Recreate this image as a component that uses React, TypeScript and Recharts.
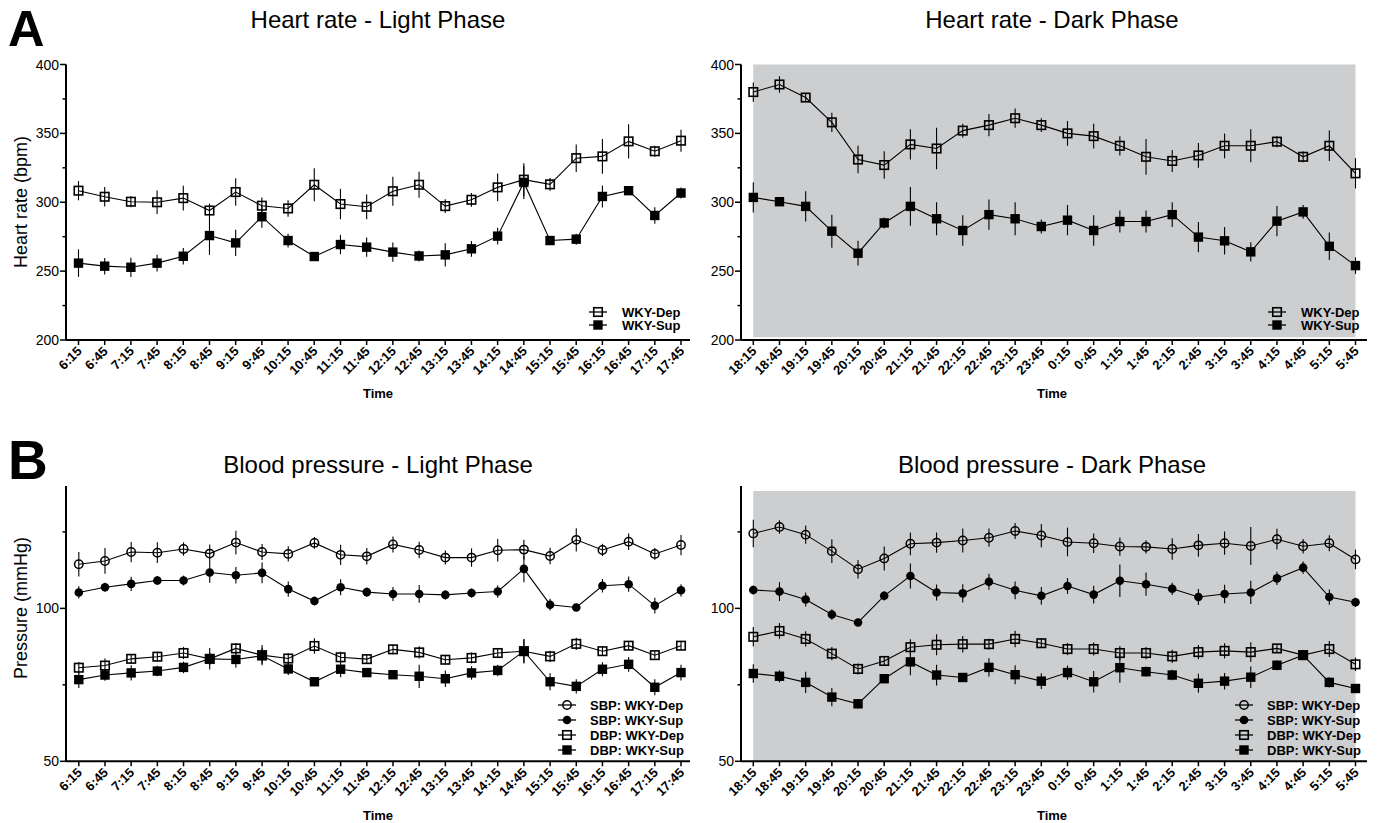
import React from 'react';
import { LineChart, Line, XAxis, YAxis, ErrorBar, ReferenceArea, Legend } from 'recharts';

const FONT = '"Liberation Sans", Arial, Helvetica, sans-serif';
const GRAY = '#cdced0';

// ---------- categories ----------
const lightTimes = ['6:15','6:45','7:15','7:45','8:15','8:45','9:15','9:45','10:15','10:45','11:15','11:45','12:15','12:45','13:15','13:45','14:15','14:45','15:15','15:45','16:15','16:45','17:15','17:45'];
const darkTimes = ['18:15','18:45','19:15','19:45','20:15','20:45','21:15','21:45','22:15','22:45','23:15','23:45','0:15','0:45','1:15','1:45','2:15','2:45','3:15','3:45','4:15','4:45','5:15','5:45'];

// ---------- heart rate (bpm) ----------
const hrLightDep = [308.4,304,300.4,300,303,294,307.4,297.5,295.5,312.7,298.7,296.7,308,312.7,297.2,301.8,310.8,316.4,313,332,333.3,344.2,337,344.7];
const hrLightDepErr = [7,7,4,8.5,9,5,10,6,6,12,11,9,10.5,9.5,5,5,10,12,4.6,10,12.6,12.4,4,8];
const hrLightSup = [255.8,253.6,252.8,255.8,260.8,275.8,270.5,289.5,272.2,260.6,269.3,267.4,263.8,261,261.8,266.2,275.4,314.4,272.2,273.2,304.2,308.4,290.4,306.7];
const hrLightSupErr = [10,6,7,6,6,14,9.5,8,5,3,7,7,7,4,8.5,5.7,6,12,3,4,8,3,6,4];

const hrDarkDep = [380,385.5,376,358,331,327,342,339,352,356,361,356,350,348,341,333,330,334,341,341,344,333,341,321];
const hrDarkDepErr = [7,6,3,7,10,10,11,15,5,8,7,5,9,9,7,13,8,9,9,12,4,4,11,11];
const hrDarkSup = [303.5,300.4,297,279,263,285,297,288,279.5,291,288,282.4,287,279.5,286,286,291,274.7,272,264,286.3,293,268,254];
const hrDarkSupErr = [11,3,11,12,9,4,14,12,11,11,12,5,11,11,8,8,9,11,10,7,11,5,10,6];

// ---------- blood pressure (mmHg) ----------
const sbpLightDep = [114.4,115.5,118.4,118.2,119.4,117.9,121.5,118.4,117.8,121.4,117.5,117.0,120.9,119.1,116.6,116.6,119.0,119.2,117.1,122.4,119.1,121.8,117.8,120.7];
const sbpLightDepErr = [4,4.2,3.3,3.4,2.2,3,3.9,2.6,2.5,1.9,3.3,2.7,2.6,2.7,2.3,3,3.7,3.2,2.7,3.8,2,2.7,1.9,3.3];
const sbpLightSup = [105.2,106.9,108.0,109.1,109.1,111.7,110.8,111.6,106.3,102.4,106.9,105.3,104.7,104.7,104.4,105.0,105.5,112.9,101.2,100.3,107.4,107.9,100.9,105.9];
const sbpLightSupErr = [2,1.5,2.3,1.5,1.6,3.3,2.7,3.4,2.5,1.5,2.6,1.5,2.3,2.9,1.5,1.5,2,4.4,1.9,1.2,2.2,2.5,2.6,2];
const dbpLightDep = [80.6,81.3,83.5,84.2,85.4,83.5,86.9,84.7,83.6,87.7,84.0,83.4,86.6,85.6,83.2,83.8,85.4,86.0,84.3,88.4,86.0,87.8,84.7,87.8];
const dbpLightDepErr = [1.9,2.3,1.6,1.6,2,2,1.8,3.3,1.7,2.5,1.8,1.6,1.5,2,1.5,1.8,1.5,3.8,1.8,2,1.5,1.2,1.2,1.5];
const dbpLightSup = [76.7,78.2,78.9,79.5,80.7,83.5,83.3,84.5,80.2,76.0,80.1,79.0,78.3,77.8,77.0,78.9,79.7,86.0,76.0,74.5,80.1,81.7,74.2,79.0];
const dbpLightSupErr = [2.7,1.9,2.5,1.7,1.9,3.5,2.7,2.6,2,1,2.6,1.2,1.2,3.8,2.7,2.2,1.9,4,2.8,2.3,2.3,2.4,2.6,2.6];

const sbpDarkDep = [124.5,126.6,124.1,118.7,112.8,116.3,121.1,121.5,122.2,123.1,125.3,123.8,121.7,121.3,120.2,120.1,119.4,120.6,121.3,120.4,122.6,120.3,121.3,116.0];
const sbpDarkDepErr = [4.5,2.2,3,3.9,3,3.9,3.7,3.3,3.9,3,2.6,3.8,4.7,3.2,3,2.2,3.5,3.7,3.8,6.2,3.4,2.4,2.6,3.2];
const sbpDarkSup = [106.0,105.5,102.9,98.0,95.4,104.1,110.6,105.2,104.9,108.7,105.9,104.1,107.3,104.5,109.0,107.9,106.4,103.7,104.7,105.2,109.8,113.3,103.7,102.0];
const sbpDarkSupErr = [1.5,3.1,2.3,1.7,1.2,1.5,4.1,2.6,3,2.6,2.9,2.9,2.6,2.9,5.3,3.8,2,2.6,3,3.8,2.2,2,2.5,1.5];
const dbpDarkDep = [90.7,92.6,90.0,85.2,80.2,82.8,87.3,88.1,88.3,88.3,90.0,88.6,86.7,86.7,85.4,85.4,84.3,85.7,86.1,85.7,86.9,84.7,86.7,81.7];
const dbpDarkDepErr = [3.2,2.6,2.5,2.2,1.8,1.5,2.6,3.4,2.7,1.8,2.7,1.6,2,2.1,2.3,2,2.2,2.3,2.5,3.2,1.3,1.6,2.6,2.2];
const dbpDarkSup = [78.7,77.8,75.8,71.0,68.8,77.0,82.5,78.2,77.4,80.7,78.3,76.2,79.0,76.0,80.6,79.3,78.2,75.5,76.2,77.5,81.4,84.7,75.8,73.8];
const dbpDarkSupErr = [3,2,3.5,3,1.5,1.5,4.4,3.4,1.5,3,3.1,2.6,2.3,3.5,4.9,1.7,1.7,3.1,2.7,3.5,1.6,1.5,1.7,1];

// ---------- axis ticks ----------
const hrTicks = [200, 225, 250, 275, 300, 325, 350, 375, 400];
const hrLabeled = [200, 250, 300, 350, 400];
const bpTicks = [50, 75, 100, 125];
const bpLabeled = [50, 100];

const hrLegend = [
  { label: 'WKY-Dep', shape: 'openSquare' },
  { label: 'WKY-Sup', shape: 'filledSquare' },
];
const bpLegend = [
  { label: 'SBP: WKY-Dep', shape: 'openCircle' },
  { label: 'SBP: WKY-Sup', shape: 'filledCircle' },
  { label: 'DBP: WKY-Dep', shape: 'openSquare' },
  { label: 'DBP: WKY-Sup', shape: 'filledSquare' },
];

const buildHr = (times: string[], dep: number[], depErr: number[], sup: number[], supErr: number[]) =>
  times.map((t, i) => ({ time: t, dep: dep[i], depErr: depErr[i], sup: sup[i], supErr: supErr[i] }));

const buildBp = (times: string[], sd: number[], sde: number[], ss: number[], sse: number[], dd: number[], dde: number[], ds: number[], dse: number[]) =>
  times.map((t, i) => ({
    time: t,
    sbpDep: sd[i], sbpDepErr: sde[i], sbpSup: ss[i], sbpSupErr: sse[i],
    dbpDep: dd[i], dbpDepErr: dde[i], dbpSup: ds[i], dbpSupErr: dse[i],
  }));

const hrLightData = buildHr(lightTimes, hrLightDep, hrLightDepErr, hrLightSup, hrLightSupErr);
const hrDarkData = buildHr(darkTimes, hrDarkDep, hrDarkDepErr, hrDarkSup, hrDarkSupErr);
const bpLightData = buildBp(lightTimes, sbpLightDep, sbpLightDepErr, sbpLightSup, sbpLightSupErr, dbpLightDep, dbpLightDepErr, dbpLightSup, dbpLightSupErr);
const bpDarkData = buildBp(darkTimes, sbpDarkDep, sbpDarkDepErr, sbpDarkSup, sbpDarkSupErr, dbpDarkDep, dbpDarkDepErr, dbpDarkSup, dbpDarkSupErr);

// ---------- markers ----------
function Marker({ shape, cx, cy }: { shape: string; cx: number; cy: number }) {
  const s = 8.5;
  if (shape === 'openSquare')
    return <rect x={cx - s / 2} y={cy - s / 2} width={s} height={s} fill="none" stroke="#000" strokeWidth={1.6} />;
  if (shape === 'filledSquare')
    return <rect x={cx - 4.7} y={cy - 4.7} width={9.4} height={9.4} fill="#000" stroke="none" />;
  if (shape === 'openCircle')
    return <circle cx={cx} cy={cy} r={4.2} fill="none" stroke="#000" strokeWidth={1.5} />;
  return <circle cx={cx} cy={cy} r={4.3} fill="#000" stroke="none" />;
}

const dotFn = (shape: string) => (props: any) => {
  const { cx, cy, index } = props;
  if (cx == null || cy == null) return <g key={`d-${shape}-${index}`} />;
  return <Marker key={`d-${shape}-${index}`} shape={shape} cx={cx} cy={cy} />;
};

// ---------- ticks ----------
const XTick = (props: any) => {
  const { x, y, payload } = props;
  const tx = x + 4;
  const ty = y + 12;
  return (
    <g>
      <line x1={x} y1={y} x2={x} y2={y + 5} stroke="#000" strokeWidth={1.5} />
      <text x={tx} y={ty} transform={`rotate(-45 ${tx} ${ty})`} textAnchor="end" fontSize={13} fontWeight="bold" fontFamily={FONT} fill="#000">
        {payload.value}
      </text>
    </g>
  );
};

const makeYTick = (labeled: number[]) => (props: any) => {
  const { x, y, payload } = props;
  const major = labeled.includes(payload.value);
  return (
    <g>
      <line x1={x - (major ? 6 : 3.5)} y1={y} x2={x} y2={y} stroke="#000" strokeWidth={1.5} />
      {major && (
        <text x={x - 7} y={y + 5} textAnchor="end" fontSize={14} fontFamily={FONT} fill="#000">
          {payload.value}
        </text>
      )}
    </g>
  );
};

// ---------- legend ----------
const makeLegend = (entries: { label: string; shape: string }[], rowGap: number, textOffset: number) => () => (
  <svg width={130} height={entries.length * rowGap + 4} style={{ display: 'block', overflow: 'visible' }}>
    {entries.map((e, i) => {
      const cy = 8 + i * rowGap;
      return (
        <g key={e.label}>
          <line x1={1} y1={cy} x2={19} y2={cy} stroke="#000" strokeWidth={1.3} />
          <Marker shape={e.shape} cx={10} cy={cy} />
          <text x={textOffset} y={cy + 4.6} fontSize={13} fontWeight="bold" fontFamily={FONT} fill="#000">
            {e.label}
          </text>
        </g>
      );
    })}
  </svg>
);

const lineProps = { type: 'linear' as const, stroke: '#000', strokeWidth: 1.1, isAnimationActive: false, activeDot: false as const };

function HrChart({ data, left, dark, legendPos }: any) {
  const chartLeft = left ? 0 : 680;
  const width = left ? 700 : 697;
  const yWidth = left ? 66 : 61;
  return (
    <div style={{ position: 'absolute', left: chartLeft, top: 0 }}>
      <LineChart width={width} height={400} data={data} margin={{ top: 64.5, right: 10, bottom: 0, left: 0 }}>
        {dark && <ReferenceArea y1={202} y2={400} fill={GRAY} fillOpacity={1} stroke="none" />}
        <XAxis dataKey="time" interval={0} height={60} tickSize={0} tickMargin={0} tickLine={false}
          axisLine={{ stroke: '#000', strokeWidth: 2 }} tick={<XTick />}
          padding={left ? { left: 12.5, right: 9 } : { left: 12.3, right: 11.5 }} />
        <YAxis type="number" domain={[200, 400]} ticks={hrTicks} width={yWidth} tickSize={0} tickMargin={0} tickLine={false}
          axisLine={{ stroke: '#000', strokeWidth: 2 }} tick={makeYTick(hrLabeled)} interval={0} allowDataOverflow />
        <Line {...lineProps} dataKey="dep" dot={dotFn('openSquare')}>
          <ErrorBar dataKey="depErr" width={0} stroke="#000" strokeWidth={1.1} direction="y" />
        </Line>
        <Line {...lineProps} dataKey="sup" dot={dotFn('filledSquare')}>
          <ErrorBar dataKey="supErr" width={0} stroke="#000" strokeWidth={1.1} direction="y" />
        </Line>
        <Legend layout="vertical" align="center" verticalAlign="middle" content={makeLegend(hrLegend, 13, 34)}
          wrapperStyle={{ position: 'absolute', left: legendPos[0] - chartLeft, top: legendPos[1], width: 130, height: 30 }} />
      </LineChart>
    </div>
  );
}

function BpChart({ data, left, dark, legendPos }: any) {
  const chartLeft = left ? 0 : 680;
  const width = left ? 700 : 697;
  const yWidth = left ? 66 : 61;
  return (
    <div style={{ position: 'absolute', left: chartLeft, top: 420 }}>
      <LineChart width={width} height={403} data={data} margin={{ top: 66, right: 10, bottom: 0, left: 0 }}>
        {dark && <ReferenceArea y1={50} y2={138.4} fill={GRAY} fillOpacity={1} stroke="none" />}
        <XAxis dataKey="time" interval={0} height={61.7} tickSize={0} tickMargin={0} tickLine={false}
          axisLine={{ stroke: '#000', strokeWidth: 2 }} tick={<XTick />}
          padding={left ? { left: 12.8, right: 9 } : { left: 12.3, right: 11.5 }} />
        <YAxis type="number" domain={[50, 140]} ticks={bpTicks} width={yWidth} tickSize={0} tickMargin={0} tickLine={false}
          axisLine={{ stroke: '#000', strokeWidth: 2 }} tick={makeYTick(bpLabeled)} interval={0} allowDataOverflow />
        <Line {...lineProps} dataKey="sbpDep" dot={dotFn('openCircle')}>
          <ErrorBar dataKey="sbpDepErr" width={0} stroke="#000" strokeWidth={1.1} direction="y" />
        </Line>
        <Line {...lineProps} dataKey="sbpSup" dot={dotFn('filledCircle')}>
          <ErrorBar dataKey="sbpSupErr" width={0} stroke="#000" strokeWidth={1.1} direction="y" />
        </Line>
        <Line {...lineProps} dataKey="dbpDep" dot={dotFn('openSquare')}>
          <ErrorBar dataKey="dbpDepErr" width={0} stroke="#000" strokeWidth={1.1} direction="y" />
        </Line>
        <Line {...lineProps} dataKey="dbpSup" dot={dotFn('filledSquare')}>
          <ErrorBar dataKey="dbpSupErr" width={0} stroke="#000" strokeWidth={1.1} direction="y" />
        </Line>
        <Legend layout="vertical" align="center" verticalAlign="middle" content={makeLegend(bpLegend, 15, 33)}
          wrapperStyle={{ position: 'absolute', left: legendPos[0] - chartLeft, top: legendPos[1] - 420, width: 130, height: 64 }} />
      </LineChart>
    </div>
  );
}

export default function App() {
  return (
    <div style={{ position: 'absolute', left: 0, top: 0, width: 1377, height: 823, background: '#fff', overflow: 'hidden', fontFamily: FONT }}>
      <HrChart data={hrLightData} left legendPos={[588, 304]} />
      <HrChart data={hrDarkData} dark legendPos={[1267, 304]} />
      <BpChart data={bpLightData} left legendPos={[557, 697]} />
      <BpChart data={bpDarkData} dark legendPos={[1234, 697]} />
      <svg width={1377} height={823} style={{ position: 'absolute', left: 0, top: 0, pointerEvents: 'none' }}>
        <g fontFamily={FONT} fill="#000">
          <text x={8} y={45.8} fontSize={50.5} fontWeight="bold">A</text>
          <text x={8} y={479} fontSize={55} fontWeight="bold">B</text>
          <text x={378} y={28} fontSize={24} textAnchor="middle">Heart rate - Light Phase</text>
          <text x={1052} y={28} fontSize={24} textAnchor="middle">Heart rate - Dark Phase</text>
          <text x={378} y={473} fontSize={24} textAnchor="middle">Blood pressure - Light Phase</text>
          <text x={1052} y={473} fontSize={24} textAnchor="middle">Blood pressure - Dark Phase</text>
          <text x={27} y={202} fontSize={18} textAnchor="middle" transform="rotate(-90 27 202)">Heart rate (bpm)</text>
          <text x={27} y={608} fontSize={18} textAnchor="middle" transform="rotate(-90 27 608)">Pressure (mmHg)</text>
          <text x={378} y={398} fontSize={13} fontWeight="bold" textAnchor="middle">Time</text>
          <text x={1052} y={398} fontSize={13} fontWeight="bold" textAnchor="middle">Time</text>
          <text x={378} y={820} fontSize={13} fontWeight="bold" textAnchor="middle">Time</text>
          <text x={1052} y={820} fontSize={13} fontWeight="bold" textAnchor="middle">Time</text>
        </g>
      </svg>
    </div>
  );
}
